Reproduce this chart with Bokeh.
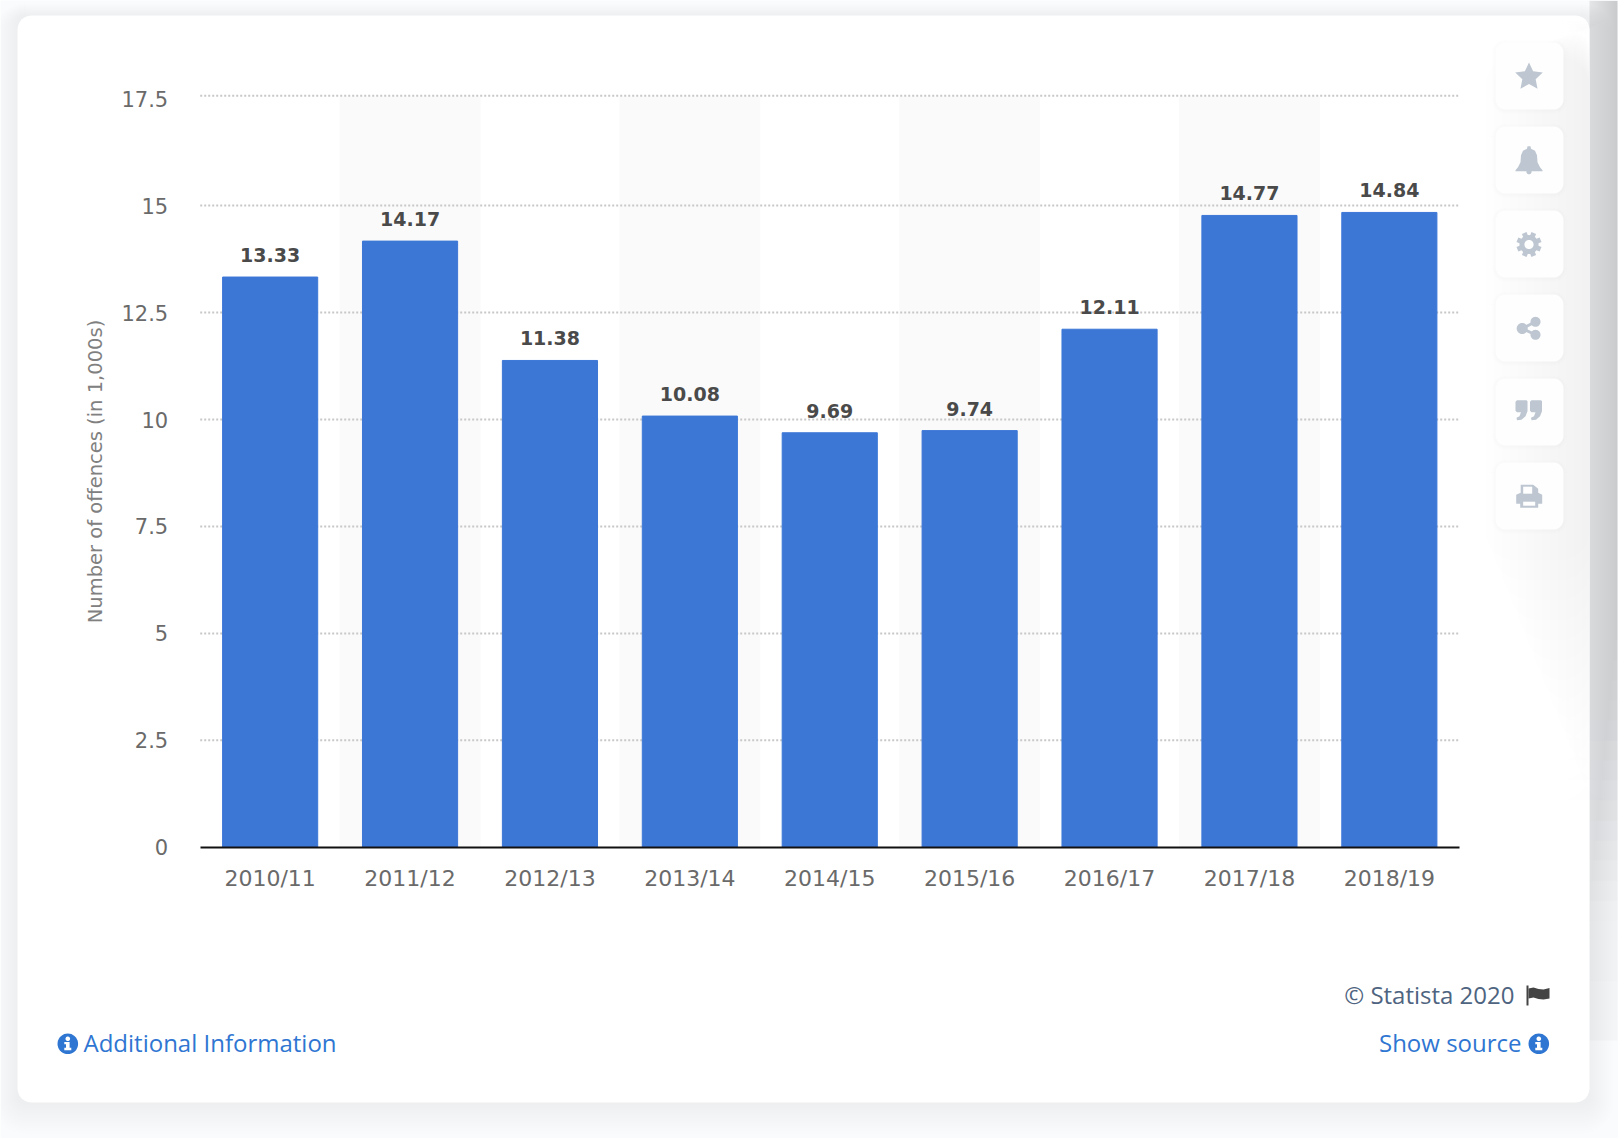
import math
from bokeh.core.properties import value
from bokeh.embed import file_html
from bokeh.models import FixedTicker, Range1d
from bokeh.plotting import figure
from bokeh.resources import INLINE

seasons = ["2010/11", "2011/12", "2012/13", "2013/14", "2014/15", "2015/16", "2016/17", "2017/18", "2018/19"]
offences = [13.33, 14.17, 11.38, 10.08, 9.69, 9.74, 12.11, 14.77, 14.84]
value_labels = ["13.33", "14.17", "11.38", "10.08", "9.69", "9.74", "12.11", "14.77", "14.84"]
y_ticks = [0, 2.5, 5, 7.5, 10, 12.5, 15, 17.5]
y_tick_labels = ["0", "2.5", "5", "7.5", "10", "12.5", "15", "17.5"]
y_axis_title = "Number of offences (in 1,000s)"

W, H = 1618, 1138
PAGE = "#fafbfc"
BLUE = "#3c77d6"
LINK = "#2f76d2"
ICON = "#bdc6d1"
X0, SLOT = 199.7, 139.9
Y0, UNIT = 846.8, 42.78

centres = [i + 0.5 for i in range(len(seasons))]
band_centres = centres[1::2]

p = figure(
    width=W, height=H, output_backend="svg", toolbar_location=None, tools="",
    x_range=Range1d(-X0 / SLOT, (W - X0) / SLOT),
    y_range=Range1d((Y0 - H) / UNIT, Y0 / UNIT),
    min_border=0, background_fill_color=PAGE, border_fill_color=PAGE, outline_line_color=None,
)
p.extra_x_ranges = {"px": Range1d(0, W)}
p.extra_y_ranges = {"px": Range1d(H, 0)}
PX = dict(x_range_name="px", y_range_name="px")


def poly(points, color=ICON, alpha=1.0, level="image"):
    p.patch([a for a, _ in points], [b for _, b in points], fill_color=color, fill_alpha=alpha,
            line_color=None, level=level, **PX)


def rrect(x0, y0, x1, y1, r):
    pts = []
    for cx, cy, start in ((x1 - r, y0 + r, -90), (x1 - r, y1 - r, 0), (x0 + r, y1 - r, 90), (x0 + r, y0 + r, 180)):
        for k in range(7):
            a = math.radians(start + k * 15)
            pts.append((cx + r * math.cos(a), cy + r * math.sin(a)))
    return pts


def box(x0, y0, x1, y1, color="#ffffff", alpha=1.0, r=0, level="image"):
    poly(rrect(x0, y0, x1, y1, r) if r else [(x0, y0), (x1, y0), (x1, y1), (x0, y1)], color, alpha, level)


def circle(cx, cy, r, color=ICON):
    poly([(cx + r * math.cos(i * math.pi / 18), cy + r * math.sin(i * math.pi / 18)) for i in range(36)], color)


def bar_line(x0, y0, x1, y1, w, color=ICON):
    d = math.hypot(x1 - x0, y1 - y0)
    nx, ny = -(y1 - y0) / d * w / 2, (x1 - x0) / d * w / 2
    poly([(x0 + nx, y0 + ny), (x1 + nx, y1 + ny), (x1 - nx, y1 - ny), (x0 - nx, y0 - ny)], color)


def label(x, y, text, color, align="left", size="24px"):
    p.text([x], [y - 10.3], text=[text], text_color=color, text_align=align, text_baseline="alphabetic",
           text_font=value("Open Sans"), text_font_size=size, **PX)


# Shadow of the neighbouring panel on the right edge
for row in range(52):
    y = row * 20
    a = 0.13 if y < 700 else 0.13 - 0.10 * (y - 700) / 340
    box(1589, y, 1617, y + 20, "#5a6270", a)
for i in range(14):
    box(1589 + 2 * i, 0, 1617, 900 - 20 * i, "#5a6270", 0.012)

# Card with its shadow
for i in range(12, 0, -1):
    box(17 - i * 2, 15 - i, 1589 + i * 2, 1102 + i * 2.6, "#8d96a6", 0.012, 8 + i * 2)
box(17, 15, 1589, 1102, "#ffffff", 1, 14)

# Sidebar glow on the card
for i in range(13):
    box(1589 - 8 * (i + 1), 20 + 3 * i, 1589, 800 - 20 * i, "#8e98a5", 0.011, 30)

# Sidebar buttons
for top in [42, 126, 210, 294, 378, 462]:
    for k in range(4, 0, -1):
        box(1495 - k, top - k + 1, 1563 + k, top + 67.5 + k, "#8e98a5", 0.012, 10 + k)
    box(1495, top, 1563, top + 67, "#fefefe", 1, 10)

# Axes
p.xaxis.fixed_location = 0
p.xaxis.bounds = (0, len(seasons))
p.xaxis.ticker = FixedTicker(ticks=centres)
p.xaxis.major_label_overrides = dict(zip(centres, seasons))
p.xaxis.axis_line_color = "#111111"
p.xaxis.axis_line_width = 2
p.xaxis.major_tick_line_color = None
p.xaxis.minor_tick_line_color = None
p.xaxis.major_label_text_color = "#6a6a6a"
p.xaxis.major_label_text_font = "DejaVu Sans"
p.xaxis.major_label_text_font_size = "22px"
p.xaxis.major_label_standoff = 13

p.yaxis.fixed_location = 0
p.yaxis.ticker = FixedTicker(ticks=y_ticks)
p.yaxis.major_label_overrides = dict(zip(y_ticks, y_tick_labels))
p.yaxis.axis_line_color = None
p.yaxis.major_tick_line_color = None
p.yaxis.minor_tick_line_color = None
p.yaxis.major_label_text_color = "#6a6a6a"
p.yaxis.major_label_text_font = "DejaVu Sans"
p.yaxis.major_label_text_font_size = "21px"
p.yaxis.major_label_standoff = 26

p.xgrid.grid_line_color = None
p.ygrid.grid_line_color = None

p.text([95], [471], text=[y_axis_title], angle=math.pi / 2, text_align="center", text_baseline="middle",
       text_color="#808080", text_font=value("DejaVu Sans"), text_font_size="19.5px", **PX)

# Bands, grid lines, bars, labels
p.vbar(x=band_centres, top=y_ticks[-1] + 0.04, bottom=0, width=1.0, color="#fafafa", level="image")
grid_y = y_ticks[1:-1] + [y_ticks[-1] + 0.07]
p.segment(x0=[0] * len(grid_y), x1=[len(seasons)] * len(grid_y), y0=grid_y, y1=grid_y,
          line_color="#c8c8c8", line_width=2, line_dash="2 2", level="image")
p.vbar(x=centres, top=offences, bottom=0, width=0.68, color=BLUE)
p.text(
    x=centres, y=offences, text=value_labels, y_offset=-22, text_align="center", text_baseline="alphabetic",
    text_font=value("DejaVu Sans"), text_font_style="bold", text_font_size="19px", text_color="#4a4a4a",
)

# Footer
label(83, 1052, "Additional Information", LINK)
label(1521, 1052, "Show source", LINK, "right")
label(1514, 1004, "© Statista 2020", "#4e6480", "right")


def info_icon(cx, cy):
    circle(cx, cy, 10.3, LINK)
    circle(cx, cy - 5, 2.3, "#ffffff")
    poly([(cx - 3.5, cy - 1.8), (cx + 1.8, cy - 1.8), (cx + 1.8, cy + 4), (cx + 3.5, cy + 4),
          (cx + 3.5, cy + 6.5), (cx - 3.5, cy + 6.5), (cx - 3.5, cy + 4), (cx - 1.8, cy + 4),
          (cx - 1.8, cy + 0.5), (cx - 3.5, cy + 0.5)], "#ffffff")


info_icon(67.3, 1043.3)
info_icon(1538.3, 1043.3)

# Flag
box(1526, 985, 1528, 1005, "#444444")
poly([(1528, 988), (1533, 987), (1538, 988.5), (1543, 989), (1549, 987.5), (1549, 998), (1543, 999),
      (1538, 998.5), (1533, 997), (1528, 998)], "#444444")

# Star
cx, cy = 1528.5, 76.5
poly([(cx + (14.5 if i % 2 == 0 else 7) * math.sin(i * math.pi / 5),
       cy - (14.5 if i % 2 == 0 else 7) * math.cos(i * math.pi / 5)) for i in range(10)])

# Bell
cx, by = 1528.5, 3.7
poly([(cx - 1.5, by + 142), (cx + 1.5, by + 142), (cx + 2, by + 144.5), (cx + 6, by + 146.5), (cx + 8, by + 151),
      (cx + 8.5, by + 158), (cx + 11, by + 163), (cx + 13.5, by + 166), (cx + 13.5, by + 167), (cx - 13.5, by + 167),
      (cx - 13.5, by + 166), (cx - 11, by + 163), (cx - 8.5, by + 158), (cx - 8, by + 151), (cx - 6, by + 146.5),
      (cx - 2, by + 144.5)])
circle(cx, by + 167.5, 2.6)

# Gear
gx, gy = 1528.5, 244
circle(gx, gy, 9.5)
for i in range(8):
    a = i * math.pi / 4 + math.pi / 8
    bar_line(gx + 8 * math.cos(a), gy + 8 * math.sin(a), gx + 12.5 * math.cos(a), gy + 12.5 * math.sin(a), 5)
circle(gx, gy, 4.6, "#ffffff")

# Share
bar_line(1535, 321.3, 1521.7, 328, 2.8)
bar_line(1535, 334.3, 1521.7, 328, 2.8)
circle(1535, 321.3, 5)
circle(1521.7, 328, 5.5)
circle(1535, 334.3, 5)

# Quotes
qy = 11.8
for qx in (1515, 1529.5):
    poly([(qx + 1.5, qy + 388), (qx + 11, qy + 388), (qx + 12, qy + 389), (qx + 12, qy + 399), (qx + 10, qy + 404),
          (qx + 6, qy + 407.5), (qx + 1.5, qy + 408), (qx + 1, qy + 405.5), (qx + 4, qy + 404), (qx + 5.5, qy + 400),
          (qx + 1.5, qy + 400), (qx, qy + 398.5), (qx, qy + 389.5)])

# Printer
px, ry = 1528.7, 15.2
poly([(px - 8.5, ry + 469), (px + 4, ry + 469), (px + 9, ry + 473), (px + 9, ry + 477), (px + 13, ry + 479),
      (px + 13, ry + 488), (px + 9, ry + 488), (px + 9, ry + 492), (px - 9, ry + 492), (px - 9, ry + 488),
      (px - 13, ry + 488), (px - 13, ry + 479), (px - 8.5, ry + 477)])
box(px - 6, ry + 471, px + 3, ry + 478, "#ffffff")
box(px - 6, ry + 486, px + 6, ry + 490, "#ffffff")

open("out.html", "w").write(file_html(p, INLINE))
